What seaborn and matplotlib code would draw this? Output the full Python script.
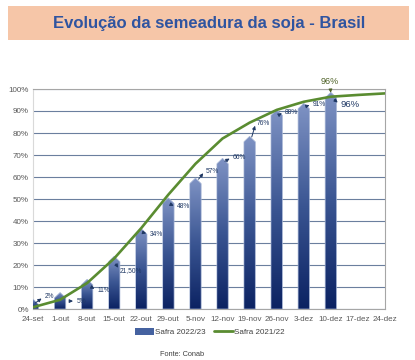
import numpy as np
import pandas as pd
import matplotlib.pyplot as plt
import seaborn as sns
from matplotlib.patches import Polygon, Rectangle, Patch
from matplotlib.lines import Line2D
from matplotlib.colors import LinearSegmentedColormap
from matplotlib.ticker import PercentFormatter

# data
datas = ['24-set', '1-out', '8-out', '15-out', '22-out', '29-out', '5-nov',
         '12-nov', '19-nov', '26-nov', '3-dez', '10-dez', '17-dez', '24-dez']
safra_2223 = [2, 5, 11, 21.5, 34, 48, 57, 66, 76, 88, 91, 96]
rotulos_2223 = ['2%', '5%', '11%', '21,50%', '34%', '48%', '57%', '66%',
                '76%', '88%', '91%', '96%']
safra_2122 = [0.8, 4.2, 11.8, 23, 36.8, 52, 66, 77.5, 84.7, 90.5, 94.2,
              96.5, 97.3, 98]

# label placement (layout only): text offset dx, text y, arrow start dx, arrow start y
pos_rotulos = [(0.42, 5.5, 0.0, 2.0), (0.6, 3.6, 0.25, 3.6), (0.38, 8.6, 0.07, 10.5),
               (0.22, 17.7, 0.0, 21.5), (0.3, 34, 0.0, 35), (0.31, 46.4, 0.0, 48),
               (0.37, 62.7, 0.05, 58), (0.37, 69, 0.0, 66.5), (0.25, 84.5, 0.05, 77),
               (0.3, 89.5, 0.05, 88), (0.33, 93, 0.05, 92), (0.35, 93, 0.05, 96)]

sns.set_style('white')
plt.rcParams['font.family'] = ['Liberation Sans Narrow', 'Liberation Sans', 'DejaVu Sans']

fig = plt.figure(figsize=(4.15, 3.6), dpi=100)
ax = fig.add_axes([33 / 415, 51 / 360, 352 / 415, 220 / 360])

# title banner
fig.patches.append(Rectangle((8 / 415, 320 / 360), 401 / 415, 34 / 360,
                             transform=fig.transFigure, facecolor='#F6C6A8',
                             edgecolor='none', zorder=0))
fig.text(0.503, 0.935, 'Evolução da semeadura da soja - Brasil', ha='center', va='center',
         fontsize=12, fontweight='bold', color='#2F54A0', family='Liberation Sans')

df = pd.DataFrame({'data': datas[:len(safra_2223)], 'valor': safra_2223})
sns.barplot(data=df, x='data', y='valor', order=datas, width=0.42, ax=ax,
            color='#3B5998', zorder=3)

cmap = LinearSegmentedColormap.from_list('barra', ['#0B2262', '#3A5592', '#7F93C4'])
grad = np.linspace(0, 1, 256).reshape(-1, 1)
ponta = 2.5
for p in list(ax.patches):
    x0 = p.get_x()
    w = p.get_width()
    h = p.get_height()
    p.set_visible(False)
    forma = Polygon([(x0, 0), (x0, h), (x0 + w / 2, h + ponta), (x0 + w, h), (x0 + w, 0)],
                    closed=True, facecolor='none', edgecolor='#A7B6D6', lw=0.5, zorder=4)
    ax.add_patch(forma)
    im = ax.imshow(grad, extent=[x0, x0 + w, 0, h + ponta], origin='lower', cmap=cmap,
                   aspect='auto', zorder=3, vmin=0, vmax=1)
    im.set_clip_path(forma)

sns.lineplot(x=np.arange(len(datas)), y=safra_2122, ax=ax, color='#5A8C31', lw=1.9,
             zorder=5)

# bar labels with little arrows
navy = '#1F3864'
for i, (txt, (dx, ty, ax0, ay0)) in enumerate(zip(rotulos_2223, pos_rotulos)):
    ultimo = i == len(rotulos_2223) - 1
    ax.annotate(txt, xy=(i + dx, ty), xytext=(i + dx, ty), ha='left', va='center',
                fontsize=6.8 if ultimo else 4.8, color=navy, zorder=7,
                family='Liberation Sans' if ultimo else None)
    ax.annotate('', xy=(i + dx - 0.02, ty), xytext=(i + ax0, ay0),
                arrowprops=dict(arrowstyle='-|>', color=navy, lw=0.7, mutation_scale=5),
                zorder=7)

# last value of the 2021/22 series above the plot
n = len(safra_2223) - 1
ax.annotate('96%', xy=(n, safra_2122[n] + 0.5), xytext=(n - 0.03, 103.5), ha='center',
            va='center', fontsize=6.5, color='#4F6228', family='Liberation Sans',
            annotation_clip=False,
            arrowprops=dict(arrowstyle='-|>', color='#4F6228', lw=0.7, mutation_scale=5))

ax.set_xlim(0, len(datas) - 1)
ax.set_ylim(0, 100)
ax.set_yticks(np.arange(0, 101, 10))
ax.yaxis.set_major_formatter(PercentFormatter(decimals=0))
ax.set_xlabel('')
ax.set_ylabel('')
ax.set_xticks(np.arange(len(datas)))
ax.set_xticklabels(datas)
ax.tick_params(axis='both', labelsize=5.8, colors='#595959', length=0, pad=3)
ax.tick_params(axis='x', length=2, color='#BFBFBF')
ax.grid(axis='y', color='#6B7F9E', lw=0.8, zorder=1)
ax.set_axisbelow(True)
ax.axhline(100, color='#808080', lw=1.2, zorder=2)
for s in ['left']:
    ax.spines[s].set_color('#D9D9D9')
for s in ['bottom', 'right', 'top']:
    ax.spines[s].set_color('#A6A6A6')
for s in ax.spines.values():
    s.set_linewidth(0.8)

handles = [Patch(facecolor='#4562A0', edgecolor='none'),
           Line2D([], [], color='#5A8C31', lw=2)]
fig.legend(handles, ['Safra 2022/23', 'Safra 2021/22'], loc='center',
           bbox_to_anchor=(0.505, 0.077), ncol=2, frameon=False, fontsize=5.8,
           handlelength=2.4, handleheight=0.9, columnspacing=1.0, handletextpad=0.1,
           labelcolor='#404040')

fig.text(182 / 415, 0.015, 'Fonte: Conab', ha='center', va='center', fontsize=5.3,
         color='#404040')

fig.savefig('out.png', dpi=100)
